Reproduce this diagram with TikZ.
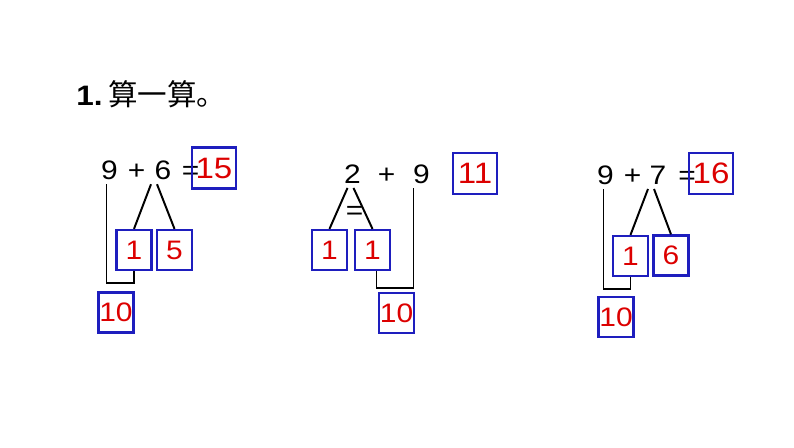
\documentclass[tikz,border=0pt]{standalone}
\usepackage{fontspec}
\setmainfont{Liberation Sans}[FakeStretch=1.12]
\newfontfamily\cjk{Noto Sans CJK SC}
\usetikzlibrary{calc}
\definecolor{boxblu}{RGB}{30,30,190}
\definecolor{numrosso}{RGB}{220,0,0}
\tikzset{
    cifra/.style={anchor=base, font=\fontsize{19}{21}\selectfont},
    risposta/.style={draw=boxblu, line width=1.6pt, text=numrosso, inner sep=0pt,
        minimum width=1.1cm, minimum height=1.03cm, font=\fontsize{21}{23}\selectfont},
    casella/.style={draw=boxblu, line width=1.6pt, text=numrosso, inner sep=0pt,
        minimum width=0.875cm, minimum height=1cm, font=\fontsize{19}{21}\selectfont},
    ramo/.style={line width=1.4pt}
}
\begin{document}
\begin{tikzpicture}[x=0.025cm, y=-0.025cm]
        \useasboundingbox (0,0) rectangle (794,447);
        % Titolo
        \node[anchor=base west, inner sep=0pt, font=\fontsize{20}{24}\selectfont\bfseries] (num) at (76,105) {1.};
        \node[anchor=base west, inner sep=0pt, font=\fontsize{21}{24}\selectfont\cjk] (titolo) at (108,105) {算一算。};
        % Primo calcolo: 9 + 6
        \node[cifra] (a9) at (109.5,179) {9};
        \node[cifra] (apiu) at (136.5,179) {+};
        \node[cifra] (a6) at (163,179) {6};
        \node[cifra] (auguale) at (190.5,179) {=};
        \node[risposta] (a15) at (214,168) {15};
        \node[casella] (a1) at (134,250) {1};
        \node[casella] (a5) at (174.5,250) {5};
        \node[casella] (a10) at (116,312.5) {10};
        \draw[ramo] ($(a6.south)+(-12,0)$) -- (a1.north);
        \draw[ramo] ($(a6.south)+(-6,0)$) -- (a5.north);
        \draw[ramo] ($(a9.south)+(-3,0)$) -- ++(0,99) -| (a1.south);
        % Secondo calcolo: 2 + 9
        \node[cifra] (b2) at (352.5,183) {2};
        \node[cifra] (bpiu) at (386.5,183) {+};
        \node[cifra] (b9) at (421.5,183) {9};
        \node[cifra] (buguale) at (354.5,219) {=};
        \node[risposta] (b11) at (475,173.5) {11};
        \node[casella] (b1s) at (329.5,250) {1};
        \node[casella] (b1d) at (372.5,250) {1};
        \node[casella] (b10) at (396.5,313) {10};
        \draw[ramo] ($(b2.south)+(-5,0)$) -- (b1s.north);
        \draw[ramo] ($(b2.south)+(1,0)$) -- (b1d.north);
        \draw[ramo] ($(b1d.south)+(4,0)$) -- ++(0,17) -| ($(b9.south)+(-8,0)$);
        % Terzo calcolo: 9 + 7
        \node[cifra] (c9) at (605.5,184) {9};
        \node[cifra] (cpiu) at (632.5,184) {+};
        \node[cifra] (c7) at (658,184) {7};
        \node[cifra] (cuguale) at (687,184) {=};
        \node[risposta] (c16) at (711,173.5) {16};
        \node[casella] (c1) at (630.5,256) {1};
        \node[casella] (c6) at (671,255.5) {6};
        \node[casella] (c10) at (616,317) {10};
        \draw[ramo] ($(c7.south)+(-10,0)$) -- (c1.north);
        \draw[ramo] ($(c7.south)+(-4,0)$) -- (c6.north);
        \draw[ramo] ($(c9.south)+(-2,0)$) -- ++(0,100) -| (c1.south);
\end{tikzpicture}
\end{document}
